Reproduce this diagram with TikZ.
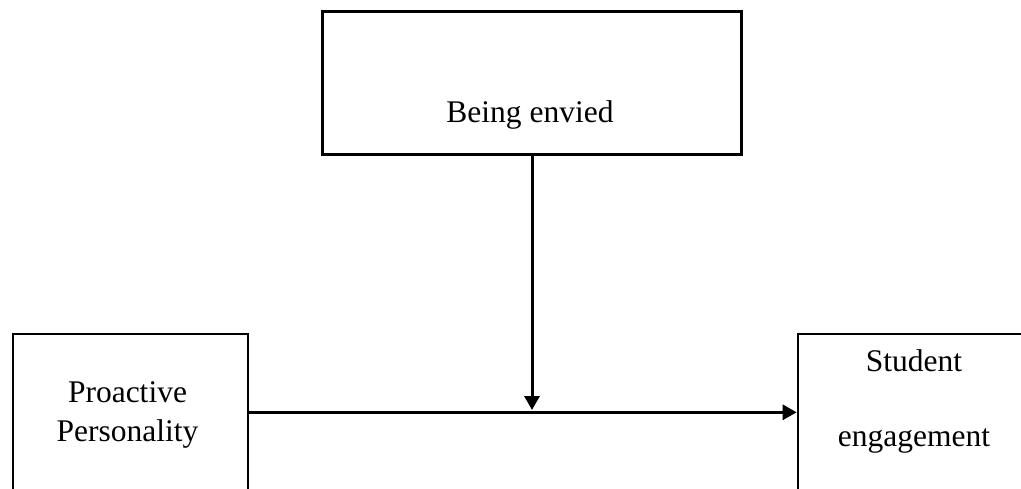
\documentclass[tikz,border=0pt]{standalone}
\usepackage{fontspec}
\setmainfont{Liberation Serif}
\usetikzlibrary{arrows.meta}
\begin{document}
\begin{tikzpicture}[x=1pt,y=1pt,
  box/.style={draw=black,rectangle,inner sep=0pt},
  lbl/.style={inner sep=0pt,font=\fontsize{31.5}{39}\selectfont,align=center},
  link/.style={line width=3pt,-{Triangle[length=14pt,width=15pt]}}]
  \useasboundingbox (0,0) rectangle (1021,488);
  \clip (0,0) rectangle (1021,488);
  % moderator box
  \node[box,line width=3pt,minimum width=419pt,minimum height=143pt] (env) at (532.2,404.9) {};
  \node[lbl,anchor=base] (envt) at (530,365) {Being envied};
  % predictor box (runs past the lower edge)
  \node[box,line width=2.2pt,minimum width=235pt,minimum height=200pt,anchor=north west] (pp) at (12,154.7) {};
  \node[lbl,anchor=base] (ppt1) at (127.5,85.3) {Proactive};
  \node[lbl,anchor=base] (ppt2) at (127.5,46.3) {Personality};
  % outcome box (runs past the right and lower edges)
  \node[box,line width=2.2pt,minimum width=260pt,minimum height=200pt,anchor=north west] (se) at (796.7,155.3) {};
  \node[lbl,anchor=base] (set1) at (914,116.3) {Student};
  \node[lbl,anchor=base] (set2) at (914,42) {engagement};
  % main path and moderating path
  \coordinate (j) at (532,75.7);
  \draw[link] (pp.east |- j) -- (se.west |- j);
  \coordinate (jt) at (532,78);
  \draw[link] (env.south -| j) -- (jt);
\end{tikzpicture}
\end{document}
